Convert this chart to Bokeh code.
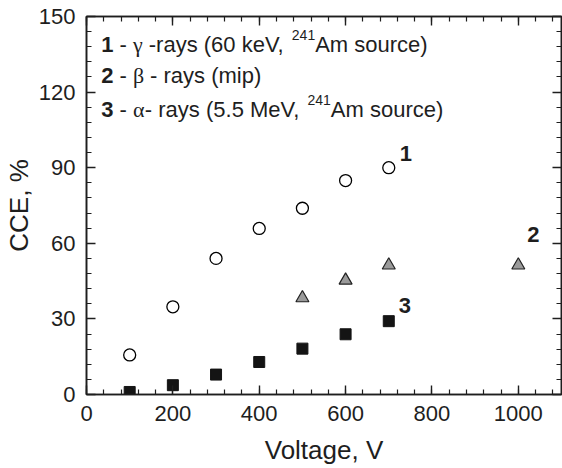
from bokeh.plotting import figure
from bokeh.models import (Range1d, LinearAxis, SingleIntervalTicker, Label,
                          CustomJSTickFormatter)
from bokeh.embed import file_html
from bokeh.resources import INLINE

# ---- data ----
gamma_v = [100, 200, 300, 400, 500, 600, 700]
gamma_cce = [15.7, 34.8, 54.0, 65.9, 73.9, 84.9, 90.0]

beta_v = [500, 600, 700, 1000]
beta_cce = [38.3, 45.3, 51.3, 51.3]

alpha_v = [100, 200, 300, 400, 500, 600, 700]
alpha_cce = [1.0, 3.7, 7.9, 12.9, 18.2, 23.9, 29.1]

x_ticks_interval = 200
y_ticks_interval = 30
x_label = "Voltage, V"
y_label = "CCE, %"
curve_tags = ["1", "2", "3"]

SANS = "Liberation Sans"
SERIF = "Liberation Serif"
INK = "#1e1e1e"

p = figure(width=562, height=467, output_backend="svg", toolbar_location=None,
           x_range=Range1d(0, 1100), y_range=Range1d(0, 150),
           min_border_left=79, min_border_right=1, min_border_top=16,
           min_border_bottom=66)
p.grid.visible = False
p.outline_line_color = INK
p.outline_line_width = 1.5
p.background_fill_color = "white"
p.border_fill_color = "white"


def style_axis(ax, interval, labels):
    ax.ticker = SingleIntervalTicker(interval=interval, num_minor_ticks=5)
    ax.axis_line_color = INK
    ax.axis_line_width = 1.6
    ax.major_tick_in = 9
    ax.major_tick_out = 0
    ax.minor_tick_in = 5
    ax.minor_tick_out = 0
    ax.major_tick_line_color = INK
    ax.minor_tick_line_color = INK
    ax.major_tick_line_width = 1.4
    ax.minor_tick_line_width = 1.2
    if labels:
        ax.major_label_text_font = SANS
        ax.major_label_text_font_size = "22px"
        ax.major_label_text_color = INK
        ax.major_label_text_line_height = 1.0
        ax.axis_label_text_font = SANS
        ax.axis_label_text_font_size = "26px"
        ax.axis_label_text_font_style = "normal"
        ax.axis_label_text_color = INK
        ax.axis_label_text_line_height = 1.0
    else:
        ax.formatter = CustomJSTickFormatter(code="return ''")
        ax.major_label_standoff = 0
        ax.axis_label = None


style_axis(p.xaxis[0], x_ticks_interval, True)
style_axis(p.yaxis[0], y_ticks_interval, True)
p.xaxis[0].axis_label = x_label
p.yaxis[0].axis_label = y_label
p.xaxis[0].major_label_standoff = 11
p.xaxis[0].axis_label_standoff = 11
p.yaxis[0].major_label_standoff = 11
p.yaxis[0].axis_label_standoff = 2

top_ax = LinearAxis()
style_axis(top_ax, x_ticks_interval, False)
p.add_layout(top_ax, "above")
right_ax = LinearAxis()
style_axis(right_ax, y_ticks_interval, False)
p.add_layout(right_ax, "right")

# ---- markers ----
p.scatter(gamma_v, gamma_cce, marker="circle", size=12, fill_color="white",
          line_color="black", line_width=1.3)
p.scatter(beta_v, beta_cce, marker="triangle", size=13, fill_color="#9a9a9a",
          line_color="#222222", line_width=1.2)
p.scatter(alpha_v, alpha_cce, marker="square", size=11, fill_color="#141414",
          line_color="#141414", line_width=1)

# ---- curve tags, anchored to last point of each series ----
anchors = [(gamma_v[-1], gamma_cce[-1], 17, 14),
           (beta_v[-1], beta_cce[-1], 15, 31),
           (alpha_v[-1], alpha_cce[-1], 16, 16)]
for tag, (ax_, ay_, dx, dy) in zip(curve_tags, anchors):
    p.add_layout(Label(x=ax_, y=ay_, x_offset=dx, y_offset=dy, text=tag,
                       text_font=SANS, text_font_style="bold",
                       text_font_size="22px", text_color=INK,
                       text_align="center", text_baseline="middle"))

# ---- legend text block ----
ADV = {' ': 278, '(': 333, ')': 333, ',': 278, '-': 333, '.': 278,
       'A': 667, 'M': 833, 'V': 667, 'a': 556, 'c': 500, 'e': 556, 'i': 222,
       'k': 500, 'm': 833, 'o': 556, 'p': 556, 'r': 333, 's': 500, 'u': 556,
       'y': 500, 'γ': 440, 'β': 500, 'α': 540}
for d in "0123456789":
    ADV[d] = 556


def width(txt, size):
    return sum(ADV.get(c, 556) for c in txt) * size / 1000.0


FS = 22
SUP = 14
legend_lines = [
    [("1", SANS, "bold", FS, 0), (" - ", SANS, "normal", FS, 0),
     ("γ", SERIF, "normal", FS, 0), (" -rays (60 keV, ", SANS, "normal", FS, 0),
     ("241", SANS, "normal", SUP, 9), ("Am source)", SANS, "normal", FS, 0)],
    [("2", SANS, "bold", FS, 0), (" - ", SANS, "normal", FS, 0),
     ("β", SERIF, "normal", FS, 0), (" - rays (mip)", SANS, "normal", FS, 0)],
    [("3", SANS, "bold", FS, 0), (" - ", SANS, "normal", FS, 0),
     ("α", SERIF, "normal", FS, 0), ("- rays (5.5 MeV, ", SANS, "normal", FS, 0),
     ("241", SANS, "normal", SUP, 9), ("Am source)", SANS, "normal", FS, 0)],
]
legend_x = 34
legend_y = [139.0, 126.6, 113.2]

for yline, segs in zip(legend_y, legend_lines):
    off = 0.0
    for txt, font, style, size, rise in segs:
        lead = len(txt) - len(txt.lstrip(" "))
        shown = txt.strip(" ")
        p.add_layout(Label(x=legend_x, y=yline,
                           x_offset=off + width(" " * lead, size),
                           y_offset=rise, text=shown, text_font=font,
                           text_font_style=style,
                           text_font_size=f"{size}px", text_color=INK,
                           text_align="left", text_baseline="alphabetic"))
        off += width(txt, size)

open("out.html", "w").write(file_html(p, INLINE))
